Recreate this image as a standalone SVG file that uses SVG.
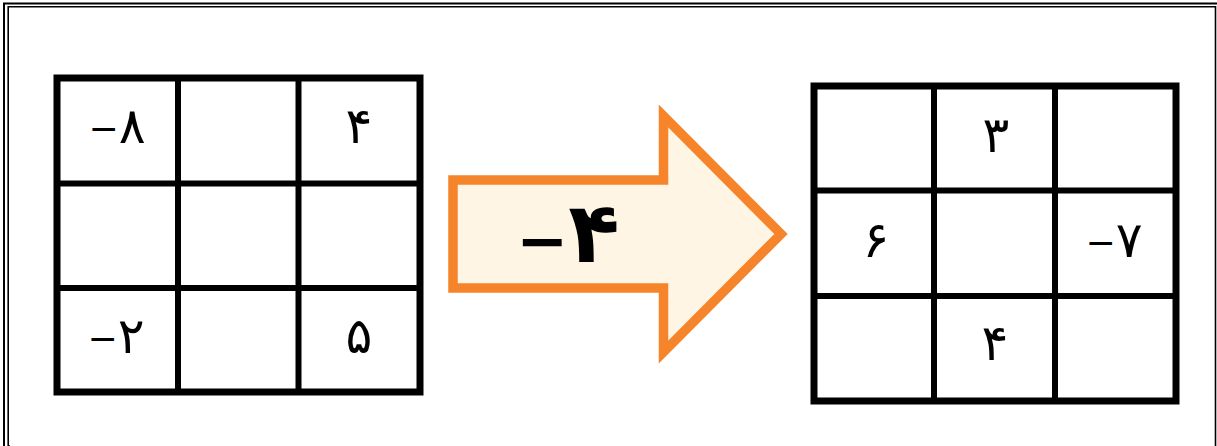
<svg xmlns="http://www.w3.org/2000/svg" width="1217" height="446" viewBox="0 0 1217 446">
<style>
.frame{fill:none;stroke:#000;}
.outer{fill:none;stroke:#000;stroke-width:7;}
.inner{stroke:#000;stroke-width:6;}
.num{font-family:"DejaVu Sans",sans-serif;font-size:50px;fill:#000;text-anchor:middle;}
.m{font-size:36px;}
.big{font-family:"DejaVu Sans",sans-serif;font-size:84px;font-weight:bold;fill:#000;text-anchor:middle;}
.bm{font-size:62px;}
</style>
<rect width="1217" height="446" fill="#fff"/>
<g id="frame">
<polyline class="frame" stroke-width="2" points="4,446 4,3.5 1217,3.5"/>
<polyline class="frame" stroke-width="1.6" points="10,446 8.2,446 8.2,6.7 1215.5,6.7 1215.5,446"/>
</g>
<g id="left-grid">
<rect class="outer" x="57" y="78" width="363" height="314" fill="#fff"/>
<line class="inner" x1="178" y1="78" x2="178" y2="392"/>
<line class="inner" x1="298.5" y1="78" x2="298.5" y2="392"/>
<line class="inner" x1="57" y1="183.5" x2="420" y2="183.5"/>
<line class="inner" x1="57" y1="288" x2="420" y2="288"/>
<text class="num" x="117" y="143"><tspan class="m" dy="-2">−</tspan><tspan dy="2">۸</tspan></text>
<text class="num" x="359" y="143">۴</text>
<text class="num" x="116" y="353"><tspan class="m" dy="-2">−</tspan><tspan dy="2">۲</tspan></text>
<text class="num" x="359" y="353">۵</text>
</g>
<g id="arrow">
<polygon points="453,180 663.5,180 663.5,116 781,234 663.5,352 663.5,288 453,288" fill="#FEF5E5" stroke="#F5842A" stroke-width="9.5" stroke-linejoin="miter"/>
<text class="big" x="568" y="262"><tspan class="bm">−</tspan><tspan>۴</tspan></text>
</g>
<g id="right-grid">
<rect class="outer" x="814" y="86" width="362" height="315" fill="#fff"/>
<line class="inner" x1="934" y1="86" x2="934" y2="401" stroke-width="7"/>
<line class="inner" x1="1055" y1="86" x2="1055" y2="401"/>
<line class="inner" x1="814" y1="190.5" x2="1176" y2="190.5"/>
<line class="inner" x1="814" y1="296" x2="1176" y2="296" stroke-width="7"/>
<text class="num" x="996" y="152">۳</text>
<text class="num" x="876" y="257">۶</text>
<text class="num" x="1114" y="257"><tspan class="m" dy="-2">−</tspan><tspan dy="2">۷</tspan></text>
<text class="num" x="995" y="360">۴</text>
</g>
</svg>
